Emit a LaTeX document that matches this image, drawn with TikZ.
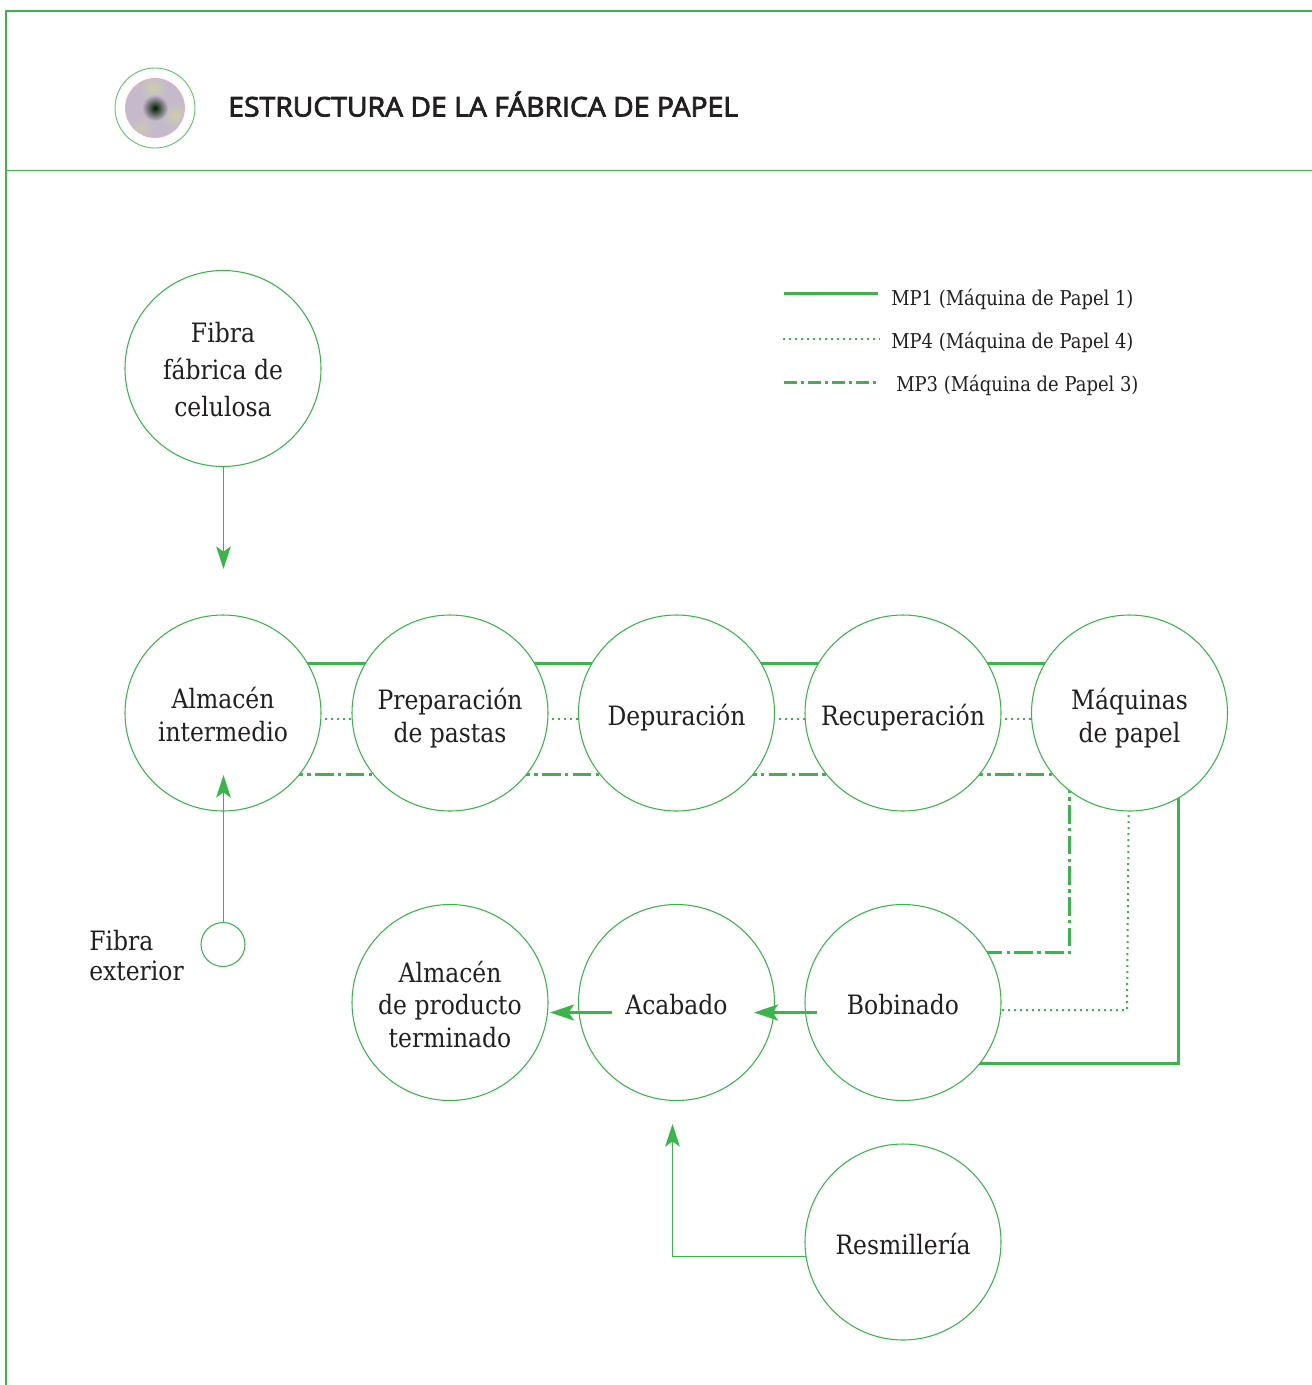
\documentclass[tikz,border=0pt]{standalone}
\usepackage{fontspec}
\setmainfont{DejaVu Serif}[FakeStretch=0.88]
\newfontfamily\headfont{Open Sans}[FakeBold=3,FakeStretch=1.047]
\usetikzlibrary{arrows.meta}
\definecolor{grn}{RGB}{57,181,74}
\definecolor{ink}{RGB}{35,31,32}
\definecolor{iconbase}{RGB}{196,186,204}
\definecolor{iconyel}{RGB}{205,205,170}
\tikzset{
  x=0.75pt,y=-0.75pt,
  proc/.style={draw=grn,fill=white,circle,line width=0.8pt,minimum size=147pt,inner sep=0pt,align=center,text=ink,
    font=\fontsize{20}{24.3}\selectfont,
    execute at begin node={\rule{0pt}{23pt}},execute at end node={\rule[-5pt]{0pt}{5pt}}},
  bare/.style={draw=grn,fill=white,circle,line width=0.8pt,minimum size=147pt,inner sep=0pt},
  multitext/.style={align=center,text=ink,inner sep=0pt,yshift=-3.75pt,font=\fontsize{20}{24.3}\selectfont},
  free/.style={text=ink,font=\fontsize{20}{22.5}\selectfont,align=left,inner sep=0pt},
  legendtext/.style={text=ink,font=\fontsize{15.3}{18}\selectfont,anchor=west,inner sep=0pt},
  frameline/.style={draw=grn,line width=1.2pt},
  mpone/.style={draw=grn,line width=2.2pt},
  mpfour/.style={draw=grn,line width=1.5pt,dash pattern=on 1.5pt off 3pt},
  mpthree/.style={draw=grn,line width=2.2pt,dash pattern=on 14pt off 3.25pt on 2.5pt off 3.25pt},
  thinarrow/.style={draw=grn,line width=0.8pt,-{Stealth[length=17pt,width=11pt,inset=4pt,fill=grn]}},
  heavyarrow/.style={draw=grn,line width=2.2pt,-{Stealth[length=18pt,width=12pt,inset=4pt,fill=grn]}},
}
\begin{document}
\begin{tikzpicture}
\useasboundingbox (0,0) rectangle (1312,1385);
% frame
\coordinate (ftl) at (6,11); \coordinate (ftr) at (1312,11);
\coordinate (fml) at (6,170.5); \coordinate (fmr) at (1312,170.5);
\coordinate (fbl) at (6,1385);
\draw[frameline] (ftr) -- (ftl) -- (fbl);
\draw[draw=grn,line width=0.8pt] (fml) -- (fmr);
% header icon
\fill[white!70!red] (155,108) circle [radius=30];
\begin{scope}
\clip (155,108) circle [radius=29.4];
\fill[iconbase] (155,108) circle [radius=30];
\shade[inner color=iconyel,outer color=iconbase] (153,88) circle [radius=14];
\shade[inner color=iconyel,outer color=iconbase] (175,115) circle [radius=13];
\shade[inner color=iconyel!70!iconbase,outer color=iconbase] (142,128) circle [radius=12];
\shade[inner color=black!90!green,middle color=black!70!green!60!iconbase,outer color=iconbase] (155,108) circle [radius=13];
\end{scope}
\draw[draw=grn!80!white,line width=0.7pt] (155,108) circle [radius=40];
\node[inner sep=0pt,anchor=west,text=ink,font=\headfont\fontsize{20.3}{24}\selectfont] (title) at (228,104) {ESTRUCTURA DE LA FÁBRICA DE PAPEL};
% centres of the circles that carry connectors
\coordinate (alm) at (223,713);
\coordinate (prep) at (450,713);
\coordinate (dep) at (676.5,713);
\coordinate (rec) at (903,713);
\coordinate (maq) at (1129.5,713);
\coordinate (bob) at (903,1002.5);
\coordinate (resm) at (903,1242);
% levels of the connectors
\coordinate (yone) at (0,663.5);
\coordinate (yfour) at (0,719);
\coordinate (ythree) at (0,774.5);
\coordinate (cthree) at (1069.5,952.5);
\coordinate (cfour) at (1127,1010);
\coordinate (cone) at (1178.5,1063.5);
\coordinate (resmc) at (672.5,1256.5);
\coordinate (resmend) at (672.5,1124);
% connectors, running behind the white circles
\foreach \a/\b in {alm/prep,prep/dep,dep/rec,rec/maq}{
  \draw[mpone] (\a |- yone) -- (\b |- yone);
  \draw[mpfour] (\a |- yfour) -- (\b |- yfour);
  \draw[mpthree] (\a |- ythree) -- (\b |- ythree);
}
\draw[mpthree] (maq -| cthree) -- (cthree) -- (bob |- cthree);
\draw[mpfour] (maq) -- (cfour) -- (bob |- cfour);
\draw[mpone] (maq -| cone) -- (cone) -- (bob |- cone);
\draw[thinarrow] (resm |- resmc) -- (resmc) -- (resmend);
% process circles
\node[bare,label={[multitext,yshift=3pt,font=\fontsize{20}{28}\selectfont]center:Fibra\\fábrica de\\celulosa}] (fibra) at (223,368.5) {};
\node[bare,label={[multitext,yshift=2.6pt]center:Almacén\\intermedio}] (alm) at (alm) {};
\node[bare,label={[multitext]center:Preparación\\de pastas}] (prep) at (prep) {};
\node[proc] (dep) at (dep) {Depuración};
\node[proc] (rec) at (rec) {Recuperación};
\node[bare,label={[multitext]center:Máquinas\\de papel}] (maq) at (maq) {};
\node[bare,label={[multitext,yshift=2.25pt]center:Almacén\\de producto\\terminado}] (term) at (450,1002.5) {};
\node[proc] (acab) at (676.5,1002.5) {Acabado};
\node[proc] (bob) at (bob) {Bobinado};
\node[proc] (resm) at (resm) {Resmillería};
\node[draw=grn,fill=white,circle,line width=0.8pt,minimum size=33pt,inner sep=0pt] (ext) at (223,944.5) {};
\node[free,anchor=north west] (extlabel) at (89,930) {Fibra\\exterior};
% arrows
\coordinate (atop) at (223.5,569);
\coordinate (ain) at (223.5,775);
\coordinate (bobout) at (817,1012.5);
\coordinate (acabin) at (754,1012.5);
\coordinate (acabout) at (612,1012.5);
\coordinate (termin) at (550,1012.5);
\draw[thinarrow] (atop |- fibra.south) -- (atop);
\draw[thinarrow] (ain |- ext.north) -- (ain);
\draw[heavyarrow] (bobout) -- (acabin);
\draw[heavyarrow] (acabout) -- (termin);
% legend
\coordinate (l1a) at (784,293.5); \coordinate (l1b) at (878,293.5);
\coordinate (l2a) at (783,339); \coordinate (l2b) at (880,339);
\coordinate (l3a) at (784,382.5); \coordinate (l3b) at (879,382.5);
\draw[mpone] (l1a) -- (l1b);
\draw[mpfour] (l2a) -- (l2b);
\draw[mpthree,dash pattern=on 10pt off 3pt on 2pt off 3pt] (l3a) -- (l3b);
\node[legendtext] (lg1) at (891,299) {MP1 (Máquina de Papel 1)};
\node[legendtext] (lg2) at (891,342) {MP4 (Máquina de Papel 4)};
\node[legendtext] (lg3) at (896,385) {MP3 (Máquina de Papel 3)};
\end{tikzpicture}
\end{document}
